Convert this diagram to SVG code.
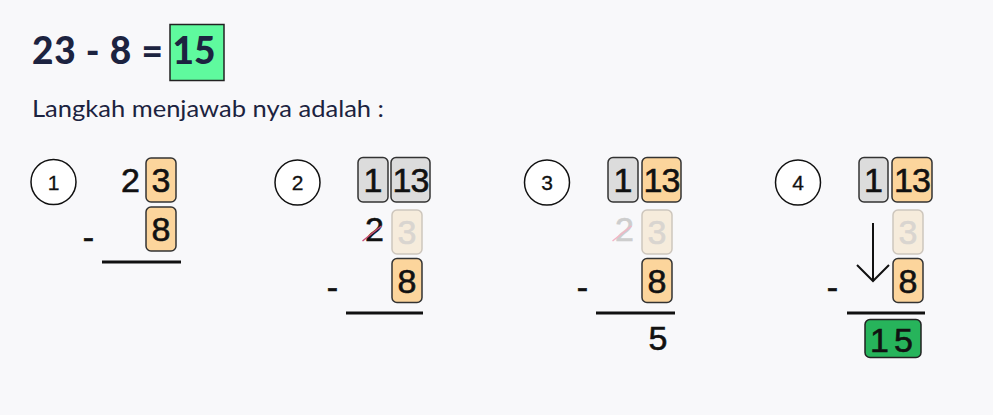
<svg xmlns="http://www.w3.org/2000/svg" width="993" height="415" viewBox="0 0 993 415">
<style>
.bg{fill:#f8f8fa}
.title{font-family:Lato,"Open Sans",sans-serif;font-weight:900;fill:#1c2340}
.sub{font-family:Lato,"Open Sans",sans-serif;font-size:23px;fill:#1c2340}
.num{font-family:"Liberation Sans",Arial,sans-serif;font-size:21px;fill:#111;text-anchor:middle;stroke:#111;stroke-width:0.3}
.dg{font-family:"Liberation Sans",Arial,sans-serif;font-size:34px;fill:#111;text-anchor:middle;stroke:#111;stroke-width:0.6}
.circ{fill:#fff;stroke:#111;stroke-width:1.5}
.box{stroke:#333;stroke-width:1.5}
.or{fill:#fcd59c}
.gr{fill:#dcdcdc}
.fd{fill:#f6ecdc;stroke:#cdc6bd;stroke-width:1.5}
.fdt{fill:#d9d5d0;stroke:#d9d5d0}
.rule{stroke:#111;stroke-width:3}
.strike{stroke:#c8507a;stroke-width:1.5}
</style>
<rect class="bg" x="0" y="0" width="993" height="415"/>

<g id="title">
<text class="title" x="32" y="64" font-size="37" textLength="131" lengthAdjust="spacing">23 - 8 =</text>
<rect x="170" y="24.5" width="54" height="56" fill="#5ffa9e" stroke="#222" stroke-width="1.5"/>
<text class="title" x="194" y="64" font-size="37" text-anchor="middle">15</text>
<text class="sub" x="32" y="117" textLength="352" lengthAdjust="spacingAndGlyphs">Langkah menjawab nya adalah :</text>
</g>

<g id="step1">
<circle class="circ" cx="53.5" cy="182" r="22.5"/>
<text class="num" x="53.5" y="189.5">1</text>
<text class="dg" x="140" y="192" style="text-anchor:end">2</text>
<rect class="box or" x="146" y="158" width="30" height="44" rx="5"/>
<text class="dg" x="161" y="192">3</text>
<rect class="box or" x="146" y="207" width="30" height="44" rx="5"/>
<text class="dg" x="161" y="241">8</text>
<text class="dg" x="88.5" y="249">-</text>
<line class="rule" x1="102" y1="262" x2="181" y2="262"/>
</g>

<g id="step2">
<circle class="circ" cx="297.5" cy="182.5" r="22.5"/>
<text class="num" x="297.5" y="190">2</text>
<rect class="box gr" x="358" y="157.5" width="30" height="44.5" rx="5"/>
<text class="dg" x="373" y="192">1</text>
<rect class="box gr" x="391" y="157.5" width="39" height="44.5" rx="5"/>
<text class="dg" x="410.5" y="192" letter-spacing="-1">13</text>
<text class="dg" x="384" y="241" style="text-anchor:end">2</text>
<line class="strike" x1="362.5" y1="241" x2="381.5" y2="226"/>
<rect class="fd" x="392" y="210" width="30" height="44" rx="5"/>
<text class="dg fdt" x="407" y="244">3</text>
<rect class="box or" x="392" y="258.5" width="30" height="44" rx="5"/>
<text class="dg" x="407" y="292.5">8</text>
<text class="dg" x="332.5" y="299">-</text>
<line class="rule" x1="346" y1="313" x2="423" y2="313"/>
</g>

<g id="step3">
<circle class="circ" cx="547" cy="182.5" r="22.5"/>
<text class="num" x="547" y="190">3</text>
<rect class="box gr" x="608" y="157.5" width="30" height="44.5" rx="5"/>
<text class="dg" x="623" y="192">1</text>
<rect class="box or" x="642" y="157.5" width="39" height="44.5" rx="5"/>
<text class="dg" x="661.5" y="192" letter-spacing="-1">13</text>
<text class="dg" x="634" y="241" style="text-anchor:end;fill:#cdcdcd;stroke:#cdcdcd">2</text>
<line x1="612.5" y1="241" x2="631.5" y2="226" stroke="#f2b5c6" stroke-width="1.5"/>
<rect class="fd" x="642" y="210" width="30" height="44" rx="5"/>
<text class="dg fdt" x="657" y="244">3</text>
<rect class="box or" x="642" y="258.5" width="30" height="44" rx="5"/>
<text class="dg" x="657" y="292.5">8</text>
<text class="dg" x="582.5" y="299">-</text>
<line class="rule" x1="596" y1="313" x2="675" y2="313"/>
<text class="dg" x="658" y="350">5</text>
</g>

<g id="step4">
<circle class="circ" cx="798" cy="182.5" r="22.5"/>
<text class="num" x="798" y="190">4</text>
<rect class="box gr" x="859" y="157.5" width="29" height="44.5" rx="5"/>
<text class="dg" x="873.5" y="192">1</text>
<rect class="box or" x="892" y="157.5" width="40" height="44.5" rx="5"/>
<text class="dg" x="912" y="192" letter-spacing="-1">13</text>
<rect class="fd" x="893" y="210" width="30" height="44" rx="5"/>
<text class="dg fdt" x="908" y="244">3</text>
<rect class="box or" x="893" y="258.5" width="30" height="44" rx="5"/>
<text class="dg" x="908" y="292.5">8</text>
<text class="dg" x="832.5" y="299">-</text>
<line class="rule" x1="847" y1="313" x2="925" y2="313"/>
<rect x="865" y="319.5" width="56" height="38" rx="5" fill="#27b45b" stroke="#222" stroke-width="1.5"/>
<text class="dg" x="894" y="352" letter-spacing="5">15</text>
</g>

<g id="connectors">
<path d="M873 223 V281 M857 265 L873 281 L889 265" fill="none" stroke="#111" stroke-width="2"/>
</g>
</svg>
